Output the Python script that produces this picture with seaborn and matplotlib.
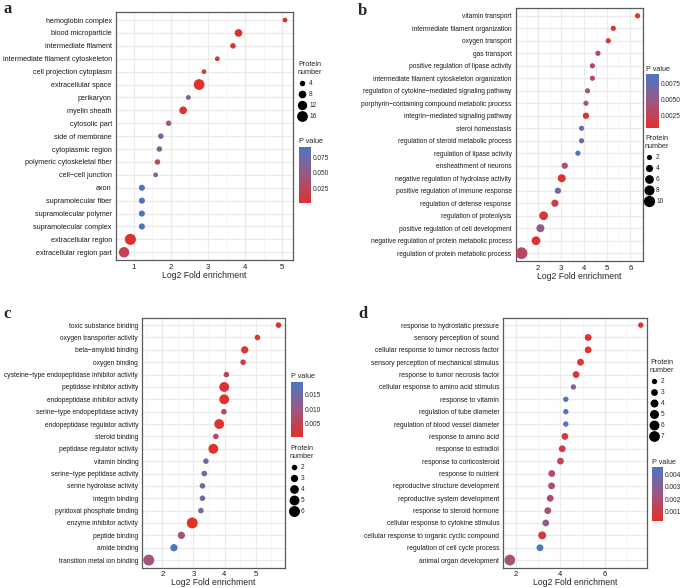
import matplotlib
matplotlib.use('Agg')
import matplotlib.pyplot as plt
import pandas as pd
import seaborn as sns
from matplotlib.colors import LinearSegmentedColormap, Normalize
from matplotlib.cm import ScalarMappable
from matplotlib.lines import Line2D
from matplotlib.ticker import MultipleLocator

sns.set_style('white')
plt.rcParams['font.family'] = ['Liberation Sans', 'DejaVu Sans']

# Panel a
a_terms = ['hemoglobin complex', 'blood microparticle', 'intermediate filament',
           'intermediate filament cytoskeleton', 'cell projection cytoplasm',
           'extracellular space', 'perikaryon', 'myelin sheath', 'cytosolic part',
           'side of membrane', 'cytoplasmic region', 'polymeric cytoskeletal fiber',
           'cell\u2212cell junction', 'axon', 'supramolecular fiber',
           'supramolecular polymer', 'supramolecular complex', 'extracellular region',
           'extracellular region part']
a_fold = [5.07, 3.82, 3.67, 3.25, 2.89, 2.76, 2.47, 2.33, 1.94, 1.73, 1.69, 1.64,
          1.59, 1.22, 1.22, 1.22, 1.22, 0.91, 0.74]
a_count = [3, 8, 4, 3, 3, 16, 3, 8, 4, 4, 4, 4, 3, 5, 5, 5, 5, 17, 15]
a_pval = [0.004, 0.002, 0.006, 0.012, 0.015, 0.0005, 0.055, 0.004, 0.04, 0.06,
          0.062, 0.03, 0.065, 0.092, 0.09, 0.091, 0.092, 0.001, 0.02]

# Panel b
b_terms = ['vitamin transport', 'intermediate filament organization', 'oxygen transport',
           'gas transport', 'positive regulation of lipase activity',
           'intermediate filament cytoskeleton organization',
           'regulation of cytokine\u2212mediated signaling pathway',
           'porphyrin\u2212containing compound metabolic process',
           'integrin\u2212mediated signaling pathway', 'sterol homeostasis',
           'regulation of steroid metabolic process', 'regulation of lipase activity',
           'ensheathment of neurons', 'negative regulation of hydrolase activity',
           'positive regulation of immune response', 'regulation of defense response',
           'regulation of proteolysis', 'positive regulation of cell development',
           'negative regulation of protein metabolic process',
           'regulation of protein metabolic process']
b_fold = [6.31, 5.26, 5.04, 4.59, 4.35, 4.35, 4.14, 4.07, 4.07, 3.88, 3.88, 3.72,
          3.15, 3.02, 2.85, 2.72, 2.23, 2.09, 1.90, 1.27]
b_count = [2, 2, 2, 2, 2, 2, 2, 2, 3, 2, 2, 2, 3, 5, 3, 4, 6, 5, 6, 11]
b_pval = [0.0005, 0.001, 0.0012, 0.003, 0.003, 0.003, 0.0045, 0.0045, 0.001, 0.0068,
          0.0068, 0.0089, 0.004, 0.0008, 0.007, 0.002, 0.001, 0.005, 0.0008, 0.003]

# Panel c
c_terms = ['toxic substance binding', 'oxygen transporter activity', 'beta\u2212amyloid binding',
           'oxygen binding', 'cysteine\u2212type endopeptidase inhibitor activity',
           'peptidase inhibitor activity', 'endopeptidase inhibitor activity',
           'serine\u2212type endopeptidase activity', 'endopeptidase regulator activity',
           'steroid binding', 'peptidase regulator activity', 'vitamin binding',
           'serine\u2212type peptidase activity', 'serine hydrolase activity',
           'integrin binding', 'pyridoxal phosphate binding', 'enzyme inhibitor activity',
           'peptide binding', 'amide binding', 'transition metal ion binding']
c_fold = [5.74, 5.06, 4.65, 4.60, 4.06, 3.99, 3.99, 3.98, 3.83, 3.72, 3.64, 3.40,
          3.35, 3.29, 3.29, 3.24, 2.96, 2.61, 2.37, 1.56]
c_count = [2, 2, 3, 2, 2, 5, 5, 2, 5, 2, 5, 2, 2, 2, 2, 2, 6, 3, 3, 6]
c_pval = [0.0005, 0.001, 0.001, 0.003, 0.005, 0.0008, 0.0008, 0.006, 0.001, 0.006,
          0.0006, 0.013, 0.014, 0.014, 0.014, 0.015, 0.0004, 0.009, 0.0195, 0.009]

# Panel d
d_terms = ['response to hydrostatic pressure', 'sensory perception of sound',
           'cellular response to tumor necrosis factor',
           'sensory perception of mechanical stimulus', 'response to tumor necrosis factor',
           'cellular response to amino acid stimulus', 'response to vitamin',
           'regulation of tube diameter', 'regulation of blood vessel diameter',
           'response to amino acid', 'response to estradiol', 'response to corticosteroid',
           'response to nutrient', 'reproductive structure development',
           'reproductive system development', 'response to steroid hormone',
           'cellular response to cytokine stimulus',
           'cellular response to organic cyclic compound',
           'regulation of cell cycle process', 'animal organ development']
d_fold = [7.60, 5.24, 5.24, 4.90, 4.70, 4.58, 4.24, 4.24, 4.24, 4.20, 4.08, 4.00,
          3.61, 3.60, 3.54, 3.43, 3.34, 3.18, 3.08, 1.73]
d_count = [2, 3, 3, 3, 3, 2, 2, 2, 2, 3, 3, 3, 3, 3, 3, 3, 3, 4, 3, 7]
d_pval = [0.0003, 0.0003, 0.0003, 0.0004, 0.0006, 0.003, 0.0045, 0.0045, 0.0045,
          0.0008, 0.001, 0.0013, 0.0017, 0.0018, 0.0018, 0.002, 0.0028, 0.0009,
          0.0046, 0.0022]

W, H = 685, 588
cmap = LinearSegmentedColormap.from_list('pval', ['#E2302A', '#9B5884', '#4A77C2'])


def px_rect(x0, y0, x1, y1):
    return [x0 / W, 1 - y1 / H, (x1 - x0) / W, (y1 - y0) / H]


def draw_panel(fig, box, terms, fold, count, pval, sizes, xticks, minor, letter, letter_xy,
               cbar_box, cbar_ticks, cbar_fmt, leg_xy, leg_breaks, ylab_fs):
    ax = fig.add_axes(px_rect(*box))
    df = pd.DataFrame({'term': terms, 'fold': fold, 'count': count, 'p': pval})
    norm = Normalize(min(pval), max(pval))
    cmin, cmax = min(count), max(count)
    sns.scatterplot(data=df, x='fold', y='term', hue='p', palette=cmap, hue_norm=norm,
                    size='count', sizes=sizes, size_norm=(cmin, cmax), linewidth=0,
                    legend=False, ax=ax, zorder=3)
    span = max(fold) - min(fold)
    ax.set_xlim(min(fold) - 0.05 * span, max(fold) + 0.05 * span)
    ax.set_ylim(len(terms) - 0.4, -0.6)
    ax.set_xticks(xticks)
    ax.xaxis.set_minor_locator(MultipleLocator(minor))
    ax.grid(True, which='major', color='#EBEBEB', lw=0.9)
    ax.grid(True, which='minor', axis='x', color='#F2F2F2', lw=0.6)
    ax.set_axisbelow(True)
    for s in ax.spines.values():
        s.set_color('#5A5A5A')
        s.set_linewidth(0.9)
    ax.tick_params(axis='both', which='major', length=2, width=0.6, color='#333333', pad=1)
    ax.tick_params(axis='y', labelsize=ylab_fs, labelcolor='#1A1A1A')
    ax.tick_params(axis='x', labelsize=5.6, labelcolor='#1A1A1A', pad=0.8)
    ax.tick_params(which='minor', length=0)
    ax.set_ylabel('')
    ax.set_xlabel('Log2 Fold enrichment', fontsize=6.2, labelpad=0)

    fig.text(letter_xy[0] / W, 1 - letter_xy[1] / H, letter, fontsize=12, fontweight='bold',
             family='Liberation Serif', va='baseline', ha='left')

    # colour bar for P value
    cax = fig.add_axes(px_rect(*cbar_box))
    cb = fig.colorbar(ScalarMappable(norm=norm, cmap=cmap), cax=cax)
    cb.outline.set_visible(False)
    cb.set_ticks(cbar_ticks)
    cb.set_ticklabels([cbar_fmt.format(t) for t in cbar_ticks])
    cax.tick_params(direction='in', length=2.5, width=0.6, color='white', labelsize=4.7,
                    pad=1.5, left=True)
    cax.set_title('P value', fontsize=5.2, loc='left', pad=2.5)

    # size legend for protein number
    handles = []
    for v in leg_breaks:
        s = sizes[0] + (sizes[1] - sizes[0]) * (v - cmin) / (cmax - cmin)
        handles.append(Line2D([], [], ls='', marker='o', color='black', mec='none',
                              markersize=s ** 0.5, label=str(v)))
    fig.legend(handles=handles, loc='upper left',
               bbox_to_anchor=(leg_xy[0] / W, 1 - leg_xy[1] / H),
               title='Protein\nnumber', title_fontsize=5.2, fontsize=4.7, frameon=False,
               borderpad=0, borderaxespad=0, handlelength=1.1, handletextpad=0.6,
               labelspacing=0.62, alignment='left')
    return ax


fig = plt.figure(figsize=(W / 100, H / 100), dpi=100)

draw_panel(fig, (116, 12.3, 293, 260), a_terms, a_fold, a_count, a_pval, (12, 64),
           [1, 2, 3, 4, 5], 0.5, 'a', (3, 13.3),
           (299.3, 146.7, 310.7, 203.3), [0.025, 0.050, 0.075], '{:.3f}',
           (298, 61), [4, 8, 12, 16], 5.2)

draw_panel(fig, (515.7, 8.3, 643.3, 260.7), b_terms, b_fold, b_count, b_pval, (14, 72),
           [2, 3, 4, 5, 6], 0.5, 'b', (358, 15),
           (645.7, 74, 659, 128), [0.0025, 0.0050, 0.0075], '{:.4f}',
           (645, 135), [2, 4, 6, 8, 10], 4.8)

draw_panel(fig, (142.3, 317.7, 285, 567.5), c_terms, c_fold, c_count, c_pval, (16, 62),
           [2, 3, 4, 5], 0.5, 'c', (3, 318.3),
           (291.3, 381.7, 303, 437), [0.005, 0.010, 0.015], '{:.3f}',
           (290, 445), [2, 3, 4, 5, 6], 4.8)

draw_panel(fig, (503.3, 317.7, 647.3, 567.5), d_terms, d_fold, d_count, d_pval, (15, 60),
           [2, 4, 6], 1.0, 'd', (358, 318.3),
           (651.7, 467, 662.7, 520.5), [0.001, 0.002, 0.003, 0.004], '{:.3f}',
           (650, 359), [2, 3, 4, 5, 6, 7], 4.9)

fig.savefig('out.png', dpi=100)
